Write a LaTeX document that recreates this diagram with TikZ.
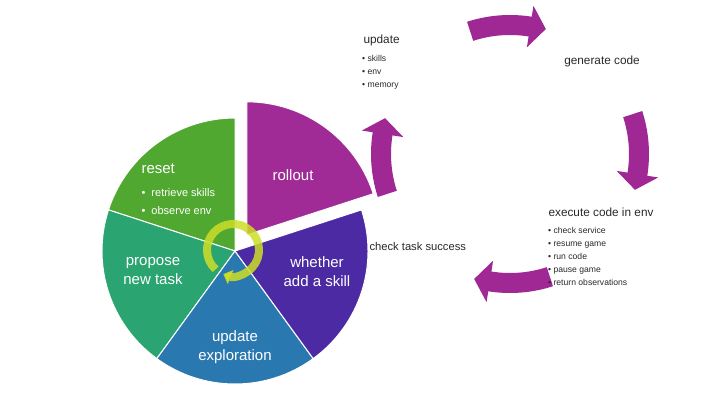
\documentclass[tikz,border=0pt]{standalone}
\usepackage{fontspec}
\setmainfont{Liberation Sans}
\usetikzlibrary{arrows.meta}

\definecolor{resetgreen}{RGB}{80,168,48}
\definecolor{proposeteal}{RGB}{42,164,112}
\definecolor{updateblue}{RGB}{42,120,176}
\definecolor{whetherpurple}{RGB}{76,42,164}
\definecolor{rolloutpurple}{RGB}{160,42,150}
\definecolor{flowpurple}{RGB}{160,40,148}
\definecolor{ringyellow}{RGB}{205,222,40}
\definecolor{textgray}{RGB}{40,40,40}

\tikzset{
  wedgelabel/.style={text=white, font=\fontsize{15}{19}\selectfont, align=center},
  wedgelist/.style={text=white, font=\fontsize{11}{18}\selectfont, align=left, anchor=north west},
  steptitle/.style={text=textgray, font=\fontsize{11.8}{13}\selectfont},
  steplist/.style={text=textgray, font=\fontsize{8.6}{13}\selectfont, align=left, anchor=north west, inner sep=0pt},
  wedgeedge/.style={draw=white, line width=1pt},
  ring/.style={draw=ringyellow, draw opacity=0.85, line width=8pt,
    -{Triangle[width=15pt,length=8pt]}}
}

%% one bent arrow of the outer loop, around angle #1
\newcommand{\flowarrow}[1]{%
  \fill[flowpurple] (#1+18:139) arc[start angle=#1+18, end angle=#1-9, radius=139]
    -- (#1-9:150) -- (#1-16:130) -- (#1-9:108) -- (#1-9:119)
    arc[start angle=#1-9, end angle=#1+18, radius=119] -- cycle;}

\begin{document}
\begin{tikzpicture}[x=1pt,y=1pt]
  \useasboundingbox (0,0) rectangle (720,405);

  %% pie
  \begin{scope}[shift={(235,154)}]
    \foreach \a/\col in {90/resetgreen, 162/proposeteal, 234/updateblue, 306/whetherpurple}
      \fill[\col, wedgeedge] (0,0) -- (\a:133) arc[start angle=\a, end angle=\a+72, radius=133] -- cycle;
    %% rollout, pulled out
    \fill[rolloutpurple, wedgeedge, shift={(54:20)}] (0,0) -- (18:133) arc[start angle=18, end angle=90, radius=133] -- cycle;
  \end{scope}

  %% cycle in the middle
  \draw[ring] (233,155) ++(228:26) arc[start angle=228, end angle=-112, radius=26];

  %% wedge labels
  \node[wedgelabel] (rollout) at (293,230) {rollout};
  \node[wedgelabel, anchor=west] (reset) at (138,236) {reset};
  \node[wedgelist] (resetlist) at (138,220) {\textbullet\ \ retrieve skills\\ \textbullet\ \ observe env};
  \node[wedgelabel] (propose) at (153,134) {propose\\ new task};
  \node[wedgelabel] (whether) at (317,133) {whether\\ add a skill};
  \node[wedgelabel] (explore) at (235,58) {update\\ exploration};

  %% outer loop
  \begin{scope}[shift={(510,251)}]
    \foreach \t in {90,0,-90,180}
      {\flowarrow{\t}}
  \end{scope}

  %% steps of the loop
  \node[steptitle, anchor=west] (update) at (360,365) {update};
  \node[steplist] (updatelist) at (362,350) {\textbullet\ skills\\ \textbullet\ env\\ \textbullet\ memory};
  \node[steptitle] (generate) at (602,344) {generate code};
  \node[steptitle, anchor=west] (execute) at (545,193) {execute code in env};
  \node[steplist] (executelist) at (548,178) {\textbullet\ check service\\ \textbullet\ resume game\\ \textbullet\ run code\\ \textbullet\ pause game\\ \textbullet\ return observations};
  \node[steptitle, anchor=west, font=\fontsize{11.2}{13}\selectfont] (check) at (366,159) {check task success};
\end{tikzpicture}
\end{document}
